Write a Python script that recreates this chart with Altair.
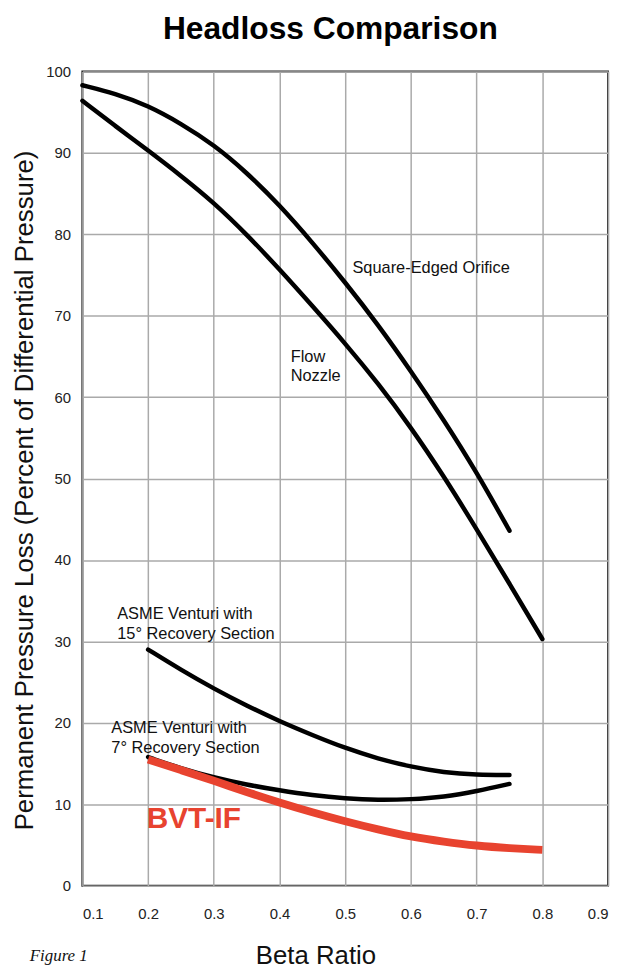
import altair as alt
import pandas as pd

# ---- data ----
orifice_x = [0.10, 0.15, 0.20, 0.25, 0.30, 0.35, 0.40, 0.45, 0.50, 0.55, 0.60, 0.65, 0.70, 0.75]
orifice_y = [98.3, 97.3, 95.8, 93.6, 91.0, 87.6, 83.6, 79.0, 74.1, 68.9, 63.2, 57.2, 50.8, 43.6]

nozzle_x = [0.10, 0.15, 0.20, 0.25, 0.30, 0.35, 0.40, 0.45, 0.50, 0.55, 0.60, 0.65, 0.70, 0.75, 0.80]
nozzle_y = [96.4, 93.3, 90.3, 87.2, 83.9, 80.0, 75.7, 71.2, 66.6, 61.7, 56.3, 50.3, 43.8, 37.1, 30.3]

v15_x = [0.20, 0.25, 0.30, 0.35, 0.40, 0.45, 0.50, 0.55, 0.60, 0.65, 0.70, 0.75]
v15_y = [29.0, 26.5, 24.2, 22.1, 20.2, 18.5, 16.9, 15.6, 14.6, 13.9, 13.6, 13.6]

v7_x = [0.20, 0.25, 0.30, 0.35, 0.40, 0.45, 0.50, 0.55, 0.60, 0.65, 0.70, 0.75]
v7_y = [15.8, 14.4, 13.3, 12.4, 11.7, 11.1, 10.7, 10.5, 10.6, 10.9, 11.6, 12.5]

bvt_x = [0.20, 0.25, 0.30, 0.35, 0.40, 0.45, 0.50, 0.55, 0.60, 0.65, 0.70, 0.75, 0.80]
bvt_y = [15.5, 14.2, 12.9, 11.5, 10.2, 9.0, 7.9, 6.9, 6.0, 5.4, 4.9, 4.6, 4.4]

x_ticks = [0.1, 0.2, 0.3, 0.4, 0.5, 0.6, 0.7, 0.8, 0.9]
y_ticks = [0, 10, 20, 30, 40, 50, 60, 70, 80, 90, 100]

# annotation texts (anchored in data coordinates)
note_text = ["Square-Edged Orifice", "Flow", "Nozzle",
             "ASME Venturi with", "15° Recovery Section",
             "ASME Venturi with", "7° Recovery Section"]
note_x = [0.511, 0.417, 0.417, 0.153, 0.153, 0.144, 0.144]
note_y = [75.9, 64.9, 62.6, 33.4, 30.9, 19.4, 16.9]

# ---- build tables ----
rows = []
for name, xs, ys in [("Square-Edged Orifice", orifice_x, orifice_y),
                     ("Flow Nozzle", nozzle_x, nozzle_y),
                     ("ASME Venturi 15", v15_x, v15_y),
                     ("ASME Venturi 7", v7_x, v7_y)]:
    for xv, yv in zip(xs, ys):
        rows.append({"series": name, "beta": xv, "loss": yv})
black_df = pd.DataFrame(rows)
red_df = pd.DataFrame({"beta": bvt_x, "loss": bvt_y})
notes_df = pd.DataFrame({"t": note_text, "beta": note_x, "loss": note_y})
bvt_label = pd.DataFrame({"t": ["BVT-IF"], "beta": [0.198], "loss": [8.2]})
fig_label = pd.DataFrame({"t": ["Figure 1"], "beta": [0.02], "loss": [-9.2]})

FONT = "Liberation Sans Narrow, Liberation Sans, Arial, sans-serif"

xs = alt.Scale(domain=[0.1, 0.9], nice=False, zero=False)
ys = alt.Scale(domain=[0, 100], nice=False)

x_enc = alt.X("beta:Q", scale=xs, axis=alt.Axis(
    values=x_ticks, format=".1f", title="Beta Ratio",
    titleFontSize=26, titleFont=FONT, titleFontWeight="normal", titleColor="#111",
    titleX=235, titleY=78, titleAlign="center", titleBaseline="alphabetic"))
y_enc = alt.Y("loss:Q", scale=ys, axis=alt.Axis(
    values=y_ticks, format="d",
    title="Permanent Pressure Loss (Percent of Differential Pressure)",
    titleFontSize=26, titleFont=FONT, titleFontWeight="normal", titleColor="#111",
    titleX=-58, titleY=422, titleAngle=270, titleAlign="center", titleBaseline="middle"))

black = alt.Chart(black_df).mark_line(
    color="#000", strokeWidth=4.5, strokeCap="round", interpolate="basis"
).encode(x=x_enc, y=y_enc, detail="series:N")

red = alt.Chart(red_df).mark_line(
    color="#E8432F", strokeWidth=8, interpolate="basis"
).encode(x="beta:Q", y="loss:Q")

notes = alt.Chart(notes_df).mark_text(
    align="left", baseline="middle", fontSize=16.5, font=FONT, color="#111"
).encode(x="beta:Q", y="loss:Q", text="t:N")

bvt = alt.Chart(bvt_label).mark_text(
    align="left", baseline="middle", fontSize=30, fontWeight="bold",
    font="Liberation Sans, Arial, sans-serif", color="#E8432F"
).encode(x="beta:Q", y="loss:Q", text="t:N")

fig = alt.Chart(fig_label).mark_text(
    align="left", baseline="alphabetic", fontSize=17, fontStyle="italic",
    font="Liberation Serif, serif", color="#111"
).encode(x="beta:Q", y="loss:Q", text="t:N")

chart = alt.layer(black, red, notes, bvt, fig).properties(
    width=530, height=821,
    title=alt.TitleParams("Headloss Comparison", fontSize=32, fontWeight="bold",
                          font="Liberation Sans, Arial, sans-serif", color="#000",
                          anchor="middle", frame="group", dx=-15, offset=19),
    autosize=alt.AutoSizeParams(type="none"),
    padding={"left": 75, "top": 60, "right": 5, "bottom": 80},
).configure_view(
    stroke="#222", strokeWidth=2
).configure_axis(
    grid=True, gridColor="#aaa", gridWidth=1.5, ticks=False, domain=False,
    labelFont=FONT, labelFontSize=15, labelColor="#222"
).configure_axisX(
    labelPadding=21
).configure_axisY(
    labelPadding=12
)

chart.save("out.html", embed_options={"renderer": "svg", "actions": False})
